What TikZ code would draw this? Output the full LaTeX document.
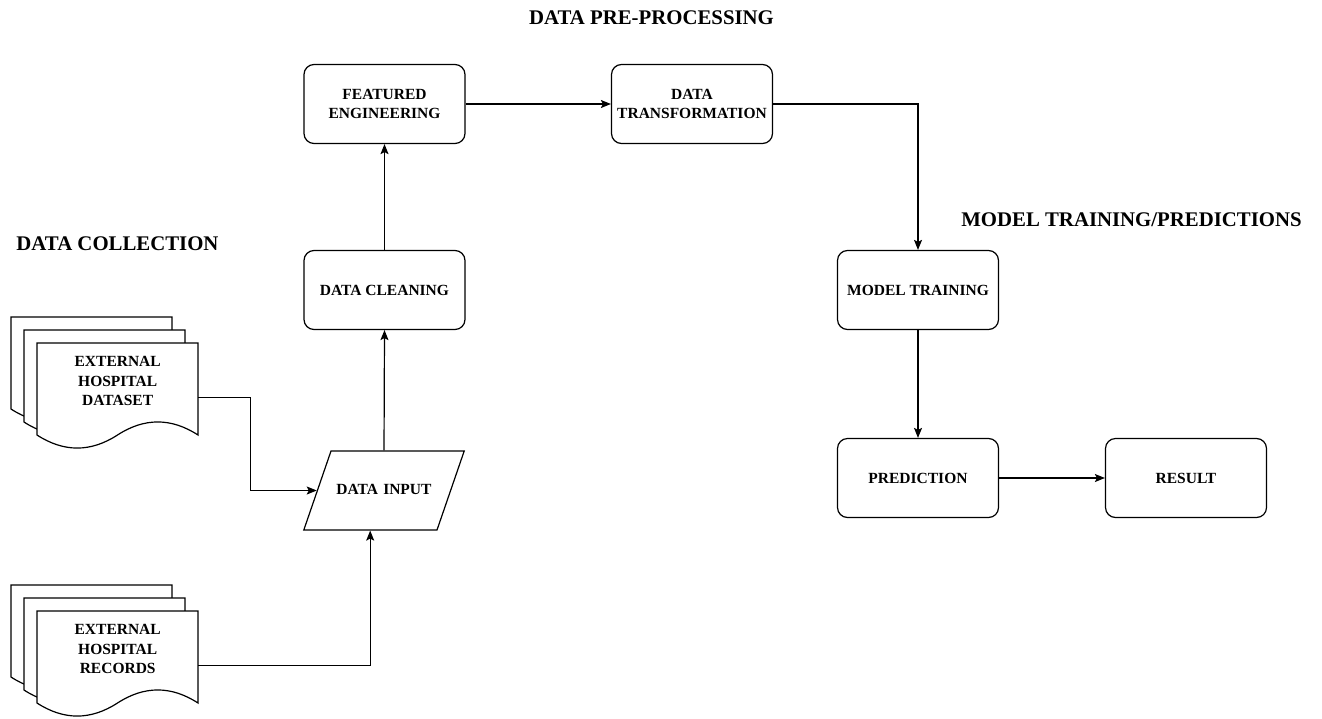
\documentclass[tikz,border=0pt]{standalone}
\usepackage{fontspec}
\setmainfont{Liberation Serif}
\usepackage{tikz}
\usetikzlibrary{arrows.meta, positioning, shapes.geometric, calc}

% stack of three document pages, #1,#2 = top-left corner of the front page
\newcommand{\pagestack}[2]{%
  \foreach \o in {26,13,0}
    \draw[docpage, shift={(#1-\o,#2-\o)}] (0,0) -- (161,0) -- (161,92)
      .. controls (134.2,74.6) and (107.3,74.6) .. (80.5,92)
      .. controls (53.7,109.4) and (26.8,109.4) .. (0,92) -- cycle;
}

\begin{document}
\begin{tikzpicture}[x=1pt, y=-1pt,
  procbox/.style={rectangle, rounded corners=10pt,
    draw=black, line width=1.2pt, fill=white,
    minimum width=161pt, minimum height=79pt, align=center,
    inner sep=2pt, font=\fontsize{15.5}{19.5}\selectfont\bfseries},
  inbox/.style={trapezium, trapezium left angle=71, trapezium right angle=109,
    draw=black, line width=1.2pt, text width=100pt, align=center,
    text height=11pt, text depth=4pt, inner xsep=3pt, inner ysep=32pt,
    font=\fontsize{15.5}{19.5}\selectfont\bfseries},
  doctext/.style={rectangle, anchor=north west, align=center,
    minimum width=161pt, minimum height=76pt, inner sep=0pt,
    font=\fontsize{15.5}{19.5}\selectfont\bfseries},
  docpage/.style={draw=black, fill=white, line width=1.2pt},
  phase/.style={font=\fontsize{20.8}{24}\selectfont\bfseries},
  arr/.style={-{Stealth[length=10pt, width=8pt, inset=2pt]}, line width=1.2pt, draw=black}
]
\useasboundingbox (0,0) rectangle (1322,718);

%% ==== Phase labels ====
\node[phase] (L1) at (117.5, 244)  {DATA COLLECTION};
\node[phase] (L2) at (651.5, 17.5) {DATA PRE-PROCESSING};
\node[phase] (L3) at (1131.5, 219.5) {MODEL TRAINING/PREDICTIONS};

%% ==== Data collection ====
\pagestack{37}{343}
\node[doctext] (ds) at (37,343) {EXTERNAL\\HOSPITAL\\DATASET};
\pagestack{37}{611}
\node[doctext] (dr) at (37,611) {EXTERNAL\\HOSPITAL\\RECORDS};
\node[inbox] (DI) at (384, 490.5) {DATA INPUT};

%% ==== Pre-processing ====
\node[procbox] (DC) at (384.5, 290) {DATA CLEANING};
\node[procbox] (FE) at (384.5, 104) {FEATURED\\ENGINEERING};
\node[procbox] (DT) at (692, 104)   {DATA\\TRANSFORMATION};

%% ==== Model training / predictions ====
\node[procbox] (MT) at (918, 290)  {MODEL TRAINING};
\node[procbox] (PR) at (918, 478)  {PREDICTION};
\node[procbox] (RS) at (1186, 478) {RESULT};

%% ==== Arrows ====
\draw[arr] ($(ds.east)+(0,16)$) -- ++(52,0) |- (DI.left side);
\draw[arr] ($(dr.east)+(0,16)$) -| (DI.bottom side);
\draw[arr] (DI.north) -- (DC.south);
\draw[arr] (DC.north) -- (FE.south);
\draw[arr] (FE.east) -- (DT.west);
\draw[arr] (DT.east) -| (MT.north);
\foreach \a/\b in {MT/PR}
  \draw[arr] (\a.south) -- (\b.north);
\draw[arr] (PR.east) -- (RS.west);

\end{tikzpicture}
\end{document}
